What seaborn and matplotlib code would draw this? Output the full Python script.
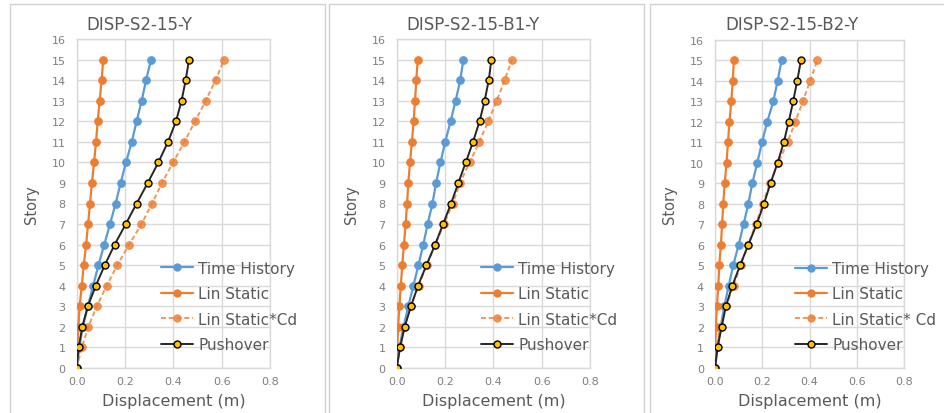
import numpy as np
import pandas as pd
import matplotlib
matplotlib.use("Agg")
import matplotlib.pyplot as plt
from matplotlib.patches import Rectangle
from matplotlib.lines import Line2D
import seaborn as sns

sns.set_theme(style="white")
plt.rcParams['font.family'] = ['DejaVu Sans']

stories = list(range(16))
titles = ["DISP-S2-15-Y", "DISP-S2-15-B1-Y", "DISP-S2-15-B2-Y"]
series_names = ["Time History", "Lin Static", "Lin Static*Cd", "Pushover"]
legend_labels = [
    ["Time History", "Lin Static", "Lin Static*Cd", "Pushover"],
    ["Time History", "Lin Static", "Lin Static*Cd", "Pushover"],
    ["Time History", "Lin Static", "Lin Static* Cd", "Pushover"],
]

# Panel 1: DISP-S2-15-Y
p1_time = [0, 0.011, 0.025, 0.046, 0.068, 0.090, 0.114, 0.138, 0.161, 0.182, 0.204, 0.228, 0.248, 0.269, 0.287, 0.308]
p1_lin = [0, 0.002, 0.007, 0.012, 0.021, 0.029, 0.039, 0.047, 0.055, 0.063, 0.072, 0.080, 0.087, 0.095, 0.103, 0.110]
p1_cd = [0, 0.021, 0.048, 0.083, 0.124, 0.168, 0.217, 0.268, 0.312, 0.353, 0.399, 0.446, 0.490, 0.534, 0.575, 0.610]
p1_push = [0, 0.008, 0.023, 0.046, 0.079, 0.116, 0.157, 0.203, 0.248, 0.294, 0.338, 0.378, 0.411, 0.434, 0.451, 0.465]

# Panel 2: DISP-S2-15-B1-Y
p2_time = [0, 0.011, 0.028, 0.048, 0.069, 0.090, 0.110, 0.128, 0.148, 0.163, 0.181, 0.201, 0.223, 0.244, 0.263, 0.276]
p2_lin = [0, 0.002, 0.006, 0.011, 0.017, 0.023, 0.030, 0.037, 0.043, 0.048, 0.055, 0.063, 0.070, 0.076, 0.081, 0.087]
p2_cd = [0, 0.014, 0.032, 0.058, 0.091, 0.124, 0.159, 0.196, 0.232, 0.262, 0.302, 0.342, 0.379, 0.414, 0.447, 0.477]
p2_push = [0, 0.014, 0.033, 0.059, 0.088, 0.123, 0.159, 0.192, 0.225, 0.255, 0.286, 0.316, 0.343, 0.364, 0.381, 0.392]

# Panel 3: DISP-S2-15-B2-Y
p3_time = [0, 0.010, 0.024, 0.039, 0.058, 0.077, 0.100, 0.121, 0.141, 0.158, 0.179, 0.199, 0.221, 0.247, 0.265, 0.282]
p3_lin = [0, 0.001, 0.004, 0.008, 0.014, 0.018, 0.025, 0.030, 0.035, 0.041, 0.049, 0.055, 0.061, 0.069, 0.075, 0.080]
p3_cd = [0, 0.006, 0.022, 0.045, 0.079, 0.108, 0.140, 0.172, 0.203, 0.232, 0.268, 0.307, 0.340, 0.372, 0.403, 0.433]
p3_push = [0, 0.011, 0.028, 0.046, 0.073, 0.106, 0.141, 0.176, 0.207, 0.235, 0.265, 0.291, 0.312, 0.331, 0.348, 0.364]

panels = [
    (p1_time, p1_lin, p1_cd, p1_push),
    (p2_time, p2_lin, p2_cd, p2_push),
    (p3_time, p3_lin, p3_cd, p3_push),
]

W, H = 944, 414
fig = plt.figure(figsize=(W / 100, H / 100), dpi=100)
fig.patch.set_facecolor("white")

# axes pixel boxes: (left, right, top, bottom)
boxes = [(76.7, 270, 40, 369), (396.7, 590, 40, 369), (715, 904, 40.7, 369)]
frames = [(10, 325), (329, 644), (650, 950)]
title_x = [139, 473, 792]
leg_x = [0.436, 0.436, 0.423]

blue = "#5B9BD5"
orange = "#ED7D31"
gold = "#FFC000"
txt = "#595959"
grid_c = "#D9D9D9"

for (fx0, fx1) in frames:
    fig.add_artist(Rectangle((fx0 / W, -0.02), (fx1 - fx0) / W, 1.02 - 5 / H,
                             transform=fig.transFigure, fill=False,
                             edgecolor="#D0D0D0", lw=1.0))

for i, (box, data) in enumerate(zip(boxes, panels)):
    l, r, t, b = box
    ax = fig.add_axes([l / W, (H - b) / H, (r - l) / W, (b - t) / H])
    t_h, lin, cd, push = data
    df = pd.DataFrame({"Story": stories, "Time": t_h, "Lin": lin, "Cd": cd, "Push": push})

    sns.lineplot(data=df, x="Time", y="Story", ax=ax, sort=False, estimator=None,
                 color=blue, lw=1.6, marker="o", markersize=5.5, markeredgecolor=blue,
                 orient="y", zorder=3)
    sns.lineplot(data=df, x="Lin", y="Story", ax=ax, sort=False, estimator=None,
                 color=orange, lw=1.6, marker="o", markersize=5.5, markeredgecolor=orange,
                 orient="y", zorder=3)
    sns.lineplot(data=df, x="Cd", y="Story", ax=ax, sort=False, estimator=None,
                 color=orange, lw=1.4, marker="o", markersize=5.5, markeredgecolor=orange,
                 linestyle=(0, (2.5, 1.5)), alpha=0.8, orient="y", zorder=3)
    sns.lineplot(data=df, x="Push", y="Story", ax=ax, sort=False, estimator=None,
                 color="#262626", lw=1.4, marker="o", markersize=5, markerfacecolor=gold,
                 markeredgecolor="black", markeredgewidth=1.0, orient="y", zorder=4)

    ax.set_xlim(0, 0.8)
    ax.set_ylim(0, 16)
    ax.set_xticks(np.arange(0, 0.81, 0.2))
    ax.set_xticklabels([f"{v:.1f}" for v in np.arange(0, 0.81, 0.2)])
    ax.set_yticks(range(0, 17))
    ax.grid(True, color=grid_c, lw=1.0)
    ax.set_axisbelow(True)
    for s in ax.spines.values():
        s.set_color(grid_c)
        s.set_linewidth(1.0)
    ax.tick_params(axis="both", length=0, labelsize=8, labelcolor="#7F7F7F")
    ax.tick_params(axis="y", pad=8)
    ax.tick_params(axis="x", pad=6)
    ax.set_xlabel("Displacement (m)", fontsize=11.5, color=txt, labelpad=5)
    ax.set_ylabel("Story", fontsize=10.5, color=txt, labelpad=9)

    handles = [
        Line2D([], [], color=blue, lw=1.6, marker="o", markersize=5, markeredgecolor=blue),
        Line2D([], [], color=orange, lw=1.6, marker="o", markersize=5, markeredgecolor=orange),
        Line2D([], [], color=orange, lw=1.4, marker="o", markersize=5, markeredgecolor=orange,
               linestyle=(0, (2.5, 1.5)), alpha=0.8),
        Line2D([], [], color="#262626", lw=1.4, marker="o", markersize=5,
               markerfacecolor=gold, markeredgecolor="black"),
    ]
    leg = ax.legend(handles, legend_labels[i], loc="upper left",
                    bbox_to_anchor=(leg_x[i], 0.326), frameon=False,
                    fontsize=11, handlelength=2.1, handletextpad=0.33,
                    labelspacing=0.68, borderpad=0, borderaxespad=0)
    for tx in leg.get_texts():
        tx.set_color(txt)
    leg.set_clip_on(False)

    fig.text(title_x[i] / W, 1 - 25 / H, titles[i], ha="center", va="center",
             fontsize=12, color=txt)

fig.savefig("out.png", dpi=100, facecolor="white")
